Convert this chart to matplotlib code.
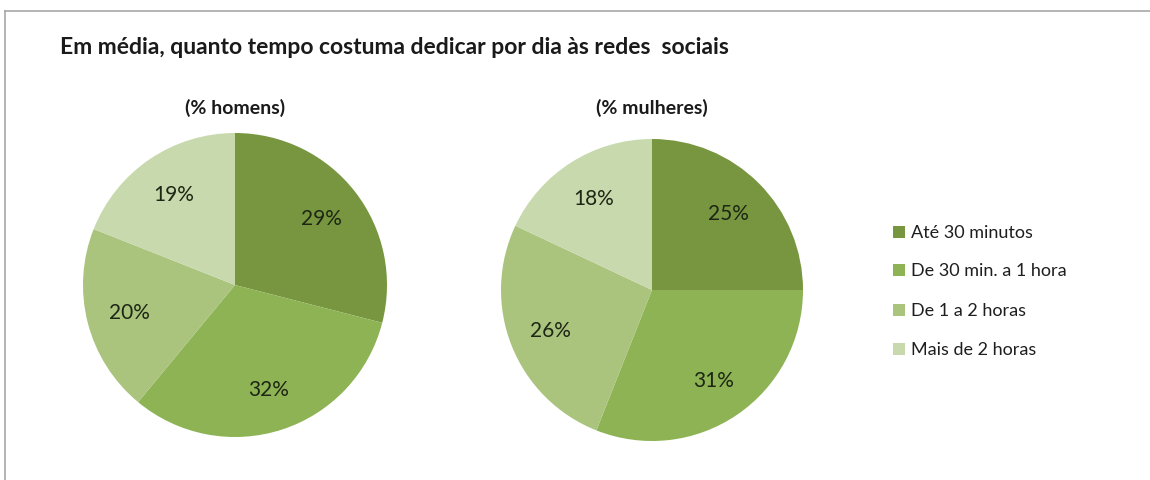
import matplotlib.pyplot as plt
from matplotlib.lines import Line2D
from matplotlib.patches import Rectangle

plt.rcParams['font.family'] = ['Lato', 'DejaVu Sans']

title = 'Em média, quanto tempo costuma dedicar por dia às redes  sociais'
categories = ['Até 30 minutos', 'De 30 min. a 1 hora', 'De 1 a 2 horas', 'Mais de 2 horas']
homens = [29, 32, 20, 19]
mulheres = [25, 31, 26, 18]
colors = ['#77963f', '#8db354', '#aac47e', '#c8d9ae']

W, H = 1150, 481
fig = plt.figure(figsize=(W / 100, H / 100), dpi=100)

# frame lines at top and left
fig.add_artist(Line2D([5 / W, 1], [1 - 12 / H, 1 - 12 / H], color='#a8a8a8', lw=1.2))
fig.add_artist(Line2D([5 / W, 5 / W], [0, 1 - 12 / H], color='#a8a8a8', lw=1.2))

fig.text(60 / W, 1 - 47 / H, title, fontsize=16.5, fontweight='bold', ha='left', va='center', color='#1a1a1a')


def draw_pie(cx, cy, r, values, sub):
    ax = fig.add_axes([(cx - r) / W, 1 - (cy + r) / H, 2 * r / W, 2 * r / H])
    ax.pie(values, colors=colors, startangle=90, counterclock=False,
           autopct='%d%%', pctdistance=0.72,
           wedgeprops=dict(linewidth=0),
           textprops=dict(fontsize=15, color='#1e2614'))
    ax.set_xlim(-1, 1)
    ax.set_ylim(-1, 1)
    ax.set_aspect('equal')
    ax.axis('off')
    fig.text(cx / W, 1 - 108 / H, sub, fontsize=14, fontweight='bold', ha='center', va='center', color='#1a1a1a')


draw_pie(235, 286, 152, homens, '(% homens)')
draw_pie(652, 291, 151, mulheres, '(% mulheres)')

# legend
ys = [233, 271, 311, 350]
for cat, col, y in zip(categories, colors, ys):
    fig.add_artist(Rectangle((893 / W, 1 - (y + 6) / H), 12 / W, 12 / H, facecolor=col, edgecolor='none'))
    fig.text(911 / W, 1 - y / H, cat, fontsize=13, ha='left', va='center', color='#1e1e1e')

fig.savefig('out.png', dpi=100)
